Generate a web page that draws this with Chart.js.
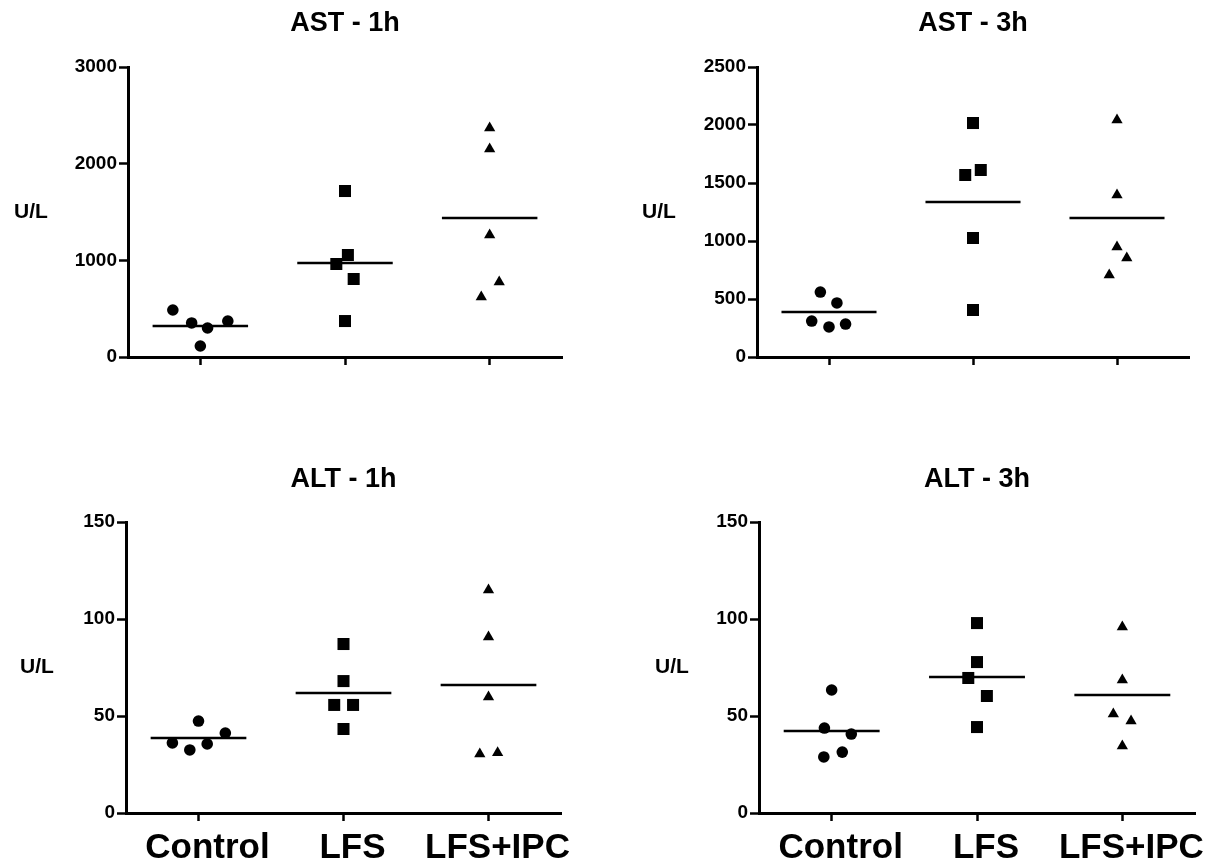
<!DOCTYPE html>
<html>
<head>
<meta charset="utf-8">
<script src="https://cdn.jsdelivr.net/npm/chart.js@4.4.1/dist/chart.umd.min.js"></script>
<style>
  html, body { margin: 0; padding: 0; background: #fff; }
  #wrap { position: relative; width: 1216px; height: 866px; background: #fff; overflow: hidden; }
  canvas { position: absolute; }
</style>
</head>
<body>
<div id="wrap">
  <canvas id="c1" width="608" height="440" style="left:0;top:0"></canvas>
  <canvas id="c2" width="608" height="440" style="left:608px;top:0"></canvas>
  <canvas id="c3" width="608" height="426" style="left:0;top:440px"></canvas>
  <canvas id="c4" width="608" height="426" style="left:608px;top:440px"></canvas>
</div>
<script>
// ---------- data ----------
const categories = ['Control', 'LFS', 'LFS+IPC'];
const unitLabel = 'U/L';

// AST - 1h
const ast1Control = [486, 352, 300, 372, 114];
const ast1LFS     = [1717, 1055, 962, 807, 372];
const ast1IPC     = [2369, 2152, 1262, 776, 621];
const ast1Means   = [321, 972, 1438];
const ast1Ticks   = [0, 1000, 2000, 3000];

// AST - 3h
const ast3Control = [560, 466, 310, 259, 284];
const ast3LFS     = [2017, 1569, 1612, 1026, 405];
const ast3IPC     = [2043, 1397, 948, 853, 707];
const ast3Means   = [388, 1336, 1198];
const ast3Ticks   = [0, 500, 1000, 1500, 2000, 2500];

// ALT - 1h
const alt1Control = [47.4, 36.1, 32.5, 35.6, 41.2];
const alt1LFS     = [87.1, 68, 55.7, 55.7, 43.3];
const alt1IPC     = [115, 90.7, 59.8, 30.4, 31];
const alt1Means   = [38.7, 61.9, 66];
const alt1Ticks   = [0, 50, 100, 150];

// ALT - 3h
const alt3Control = [63.4, 43.8, 40.7, 31.4, 28.9];
const alt3LFS     = [97.9, 77.8, 69.6, 60.3, 44.3];
const alt3IPC     = [95.9, 68.6, 51, 47.4, 34.5];
const alt3Means   = [42.3, 70.1, 60.8];
const alt3Ticks   = [0, 50, 100, 150];

// horizontal scatter spread of each point (category units), same order as values
const ast1Spread = [[-0.19, -0.06, 0.05, 0.19, 0], [0, 0.02, -0.06, 0.06, 0], [0, 0, 0, 0.066, -0.058]];
const ast3Spread = [[-0.06, 0.055, -0.12, 0, 0.115], [0, -0.054, 0.054, 0, 0], [0, 0, 0, 0.068, -0.054]];
const alt1Spread = [[0, -0.18, -0.06, 0.06, 0.185], [0, 0, -0.064, 0.066, 0], [0, 0, 0, -0.06, 0.063]];
const alt3Spread = [[0, -0.05, 0.135, 0.073, -0.054], [0, 0, -0.06, 0.068, 0], [0, 0, -0.062, 0.06, 0]];

// ---------- chart construction ----------
Chart.defaults.font.family = '"Liberation Sans", Arial, sans-serif';
Chart.defaults.color = '#000';

const panelText = {
  id: 'panelText',
  afterDraw(chart, args, opts) {
    const ctx = chart.ctx, a = chart.chartArea;
    ctx.save();
    ctx.fillStyle = '#000';
    ctx.textAlign = 'center';
    ctx.textBaseline = 'middle';
    ctx.font = 'bold 27px "Liberation Sans", Arial, sans-serif';
    ctx.fillText(opts.title, (a.left + a.right) / 2, a.top - opts.titleGap);
    ctx.font = 'bold 21px "Liberation Sans", Arial, sans-serif';
    ctx.fillText(unitLabel, a.left - opts.unitGap, (a.top + a.bottom) / 2);
    ctx.restore();
  }
};

const styles = ['circle', 'rect', 'triangle'];
const radii = [5.8, 8.5, 6.5];

function buildPanel(id, title, groups, spreads, means, ticks, o) {
  const datasets = [];
  groups.forEach((vals, g) => {
    datasets.push({
      type: 'scatter',
      data: vals.map((v, i) => ({ x: g + spreads[g][i], y: v })),
      pointStyle: styles[g],
      pointRadius: radii[g],
      pointBackgroundColor: '#000',
      pointBorderColor: '#000',
      pointBorderWidth: 0,
      showLine: false
    });
  });
  means.forEach((m, g) => {
    datasets.push({
      type: 'line',
      data: [{ x: g - 0.33, y: m }, { x: g + 0.33, y: m }],
      borderColor: '#000',
      borderWidth: 2.5,
      pointRadius: 0,
      fill: false
    });
  });
  return new Chart(document.getElementById(id), {
    type: 'scatter',
    data: { datasets },
    plugins: [panelText],
    options: {
      responsive: false,
      devicePixelRatio: 1,
      animation: false,
      events: [],
      layout: { padding: { left: 0, right: o.padRight, top: o.padTop, bottom: 0 } },
      plugins: {
        legend: { display: false },
        tooltip: { enabled: false },
        panelText: { title: title, titleGap: o.titleGap, unitGap: o.unitGap }
      },
      scales: {
        x: {
          type: 'linear',
          min: -0.5, max: 2.5,
          afterBuildTicks: s => { s.ticks = categories.map((c, i) => ({ value: i })); },
          afterFit: s => { s.height = o.xHeight; },
          ticks: {
            callback: v => o.showCats ? categories[v] : '',
            font: { size: 35, weight: 'bold' },
            color: '#000',
            padding: 6,
            labelOffset: 9,
            maxRotation: 0,
            autoSkip: false
          },
          grid: { drawOnChartArea: false, drawTicks: true, tickLength: 8, tickWidth: 2.5, tickColor: '#000' },
          border: { display: true, color: '#000', width: 3 }
        },
        y: {
          min: ticks[0], max: ticks[ticks.length - 1],
          afterBuildTicks: s => { s.ticks = ticks.map(v => ({ value: v })); },
          afterFit: s => { s.width = o.yWidth; },
          ticks: {
            callback: v => String(v),
            font: { size: 19, weight: 'bold' },
            color: '#000',
            padding: 2
          },
          grid: { drawOnChartArea: false, drawTicks: true, tickLength: 9, tickWidth: 2.5, tickColor: '#000' },
          border: { display: true, color: '#000', width: 3 }
        }
      }
    }
  });
}

// top-left: chart area x 128..562, y 67..357
buildPanel('c1', 'AST - 1h', [ast1Control, ast1LFS, ast1IPC], ast1Spread, ast1Means, ast1Ticks,
  { yWidth: 128, padRight: 608 - 562, padTop: 67, xHeight: 440 - 357, showCats: false, titleGap: 43, unitGap: 97 });
// top-right: chart area x 757..1189 (149..581 local)
buildPanel('c2', 'AST - 3h', [ast3Control, ast3LFS, ast3IPC], ast3Spread, ast3Means, ast3Ticks,
  { yWidth: 149, padRight: 608 - 581, padTop: 67, xHeight: 440 - 357, showCats: false, titleGap: 43, unitGap: 98 });
// bottom-left: chart area x 126..561, y 522..813 (82..373 local)
buildPanel('c3', 'ALT - 1h', [alt1Control, alt1LFS, alt1IPC], alt1Spread, alt1Means, alt1Ticks,
  { yWidth: 126, padRight: 608 - 561, padTop: 82, xHeight: 426 - 373, showCats: true, titleGap: 42, unitGap: 89 });
// bottom-right: chart area x 759..1195 (151..587 local)
buildPanel('c4', 'ALT - 3h', [alt3Control, alt3LFS, alt3IPC], alt3Spread, alt3Means, alt3Ticks,
  { yWidth: 151, padRight: 608 - 587, padTop: 82, xHeight: 426 - 373, showCats: true, titleGap: 42, unitGap: 87 });
</script>
</body>
</html>
